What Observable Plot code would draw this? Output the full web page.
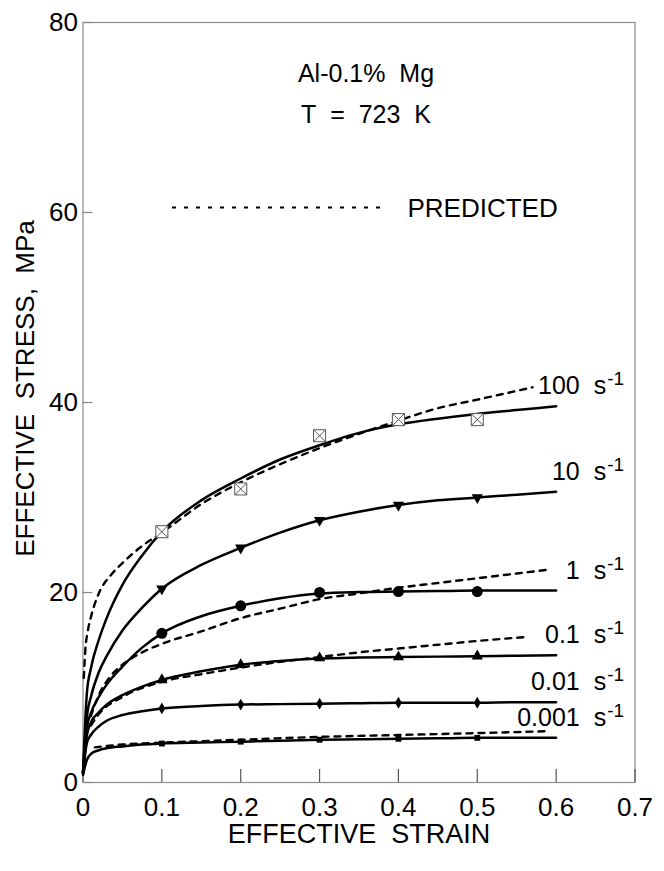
<!DOCTYPE html>
<html><head><meta charset="utf-8">
<script src="https://cdn.jsdelivr.net/npm/d3@7"></script>
<script src="https://cdn.jsdelivr.net/npm/@observablehq/plot@0.6"></script>
<style>html,body{margin:0;padding:0;background:#fff}</style>
</head><body><div id="chart"></div>
<script>
// ---------- data ----------
const rates = ["100", "10", "1", "0.1", "0.01", "0.001"];
const xTicks = [0, 0.1, 0.2, 0.3, 0.4, 0.5, 0.6, 0.7];
const yTicks = [0, 20, 40, 60, 80];
const xTitle = "EFFECTIVE\u00a0 STRAIN";
const yTitle = "EFFECTIVE\u00a0 STRESS,\u00a0 MPa";
const alloyText = "Al-0.1%\u00a0 Mg";
const tempText = "T\u00a0 =\u00a0 723\u00a0 K";
const legendText = "PREDICTED";

// measured points (markers)
const markerStrain = [0.1, 0.2, 0.3, 0.4, 0.5];
const measured100 = [26.4, 30.9, 36.5, 38.2, 38.2];
const measured10 = [20.4, 24.7, 27.6, 29.2, 30.0];
const measured1 = [15.7, 18.6, 20.0, 20.1, 20.1];
const measured01 = [10.8, 12.4, 13.1, 13.2, 13.3];
const measured001 = [7.8, 8.2, 8.3, 8.4, 8.4];
const measured0001 = [4.1, 4.3, 4.5, 4.6, 4.7];

// solid (experimental fit) curves
const fitStrain = [0, 0.005, 0.01, 0.02, 0.03, 0.05, 0.075, 0.1, 0.15, 0.2, 0.25, 0.3, 0.35, 0.4, 0.45, 0.5, 0.55, 0.6];
const fit100 = [1.0, 9.5, 12.0, 15.0, 17.3, 20.8, 23.9, 26.4, 29.7, 32.0, 34.0, 35.5, 36.8, 37.7, 38.3, 38.8, 39.2, 39.6];
const fit10 = [1.0, 7.0, 9.0, 11.6, 13.3, 16.0, 18.4, 20.4, 22.9, 24.7, 26.3, 27.6, 28.5, 29.2, 29.7, 30.0, 30.3, 30.6];
const fit1 = [1.0, 5.8, 7.3, 9.0, 10.3, 12.2, 14.2, 15.7, 17.5, 18.6, 19.4, 19.9, 20.05, 20.1, 20.15, 20.2, 20.2, 20.2];
const fit01 = [1.0, 5.0, 6.3, 7.4, 8.2, 9.2, 10.1, 10.8, 11.7, 12.4, 12.8, 13.05, 13.15, 13.2, 13.25, 13.3, 13.35, 13.4];
const fit001 = [1.0, 4.2, 5.0, 5.9, 6.5, 7.1, 7.5, 7.8, 8.05, 8.2, 8.25, 8.3, 8.35, 8.4, 8.4, 8.4, 8.45, 8.45];
const fit0001 = [0.8, 2.4, 3.0, 3.4, 3.6, 3.8, 4.0, 4.1, 4.2, 4.3, 4.4, 4.5, 4.55, 4.6, 4.65, 4.7, 4.7, 4.7];

// dashed (predicted) curves
const pred100Strain = [0.001, 0.003, 0.006, 0.01, 0.02, 0.035, 0.05, 0.075, 0.1, 0.15, 0.2, 0.25, 0.3, 0.35, 0.4, 0.45, 0.5, 0.57];
const pred100 = [11.0, 14.0, 15.9, 17.4, 19.9, 21.8, 23.1, 24.9, 26.3, 29.3, 31.6, 33.5, 35.2, 36.7, 38.1, 39.4, 40.3, 41.6];
const pred1Strain = [0.01, 0.02, 0.035, 0.05, 0.075, 0.1, 0.15, 0.2, 0.25, 0.3, 0.35, 0.4, 0.45, 0.5, 0.55, 0.59];
const pred1 = [7.0, 9.2, 11.2, 12.4, 13.7, 14.6, 15.9, 17.3, 18.3, 19.3, 19.9, 20.5, 21.0, 21.5, 22.0, 22.4];
const pred01Strain = [0.01, 0.02, 0.05, 0.1, 0.15, 0.2, 0.25, 0.3, 0.35, 0.4, 0.45, 0.5, 0.56];
const pred01 = [6.0, 7.2, 9.0, 10.6, 11.4, 12.1, 12.7, 13.2, 13.7, 14.1, 14.5, 14.9, 15.3];
const pred0001Strain = [0.015, 0.05, 0.1, 0.15, 0.2, 0.3, 0.4, 0.5, 0.59];
const pred0001 = [3.7, 4.0, 4.2, 4.35, 4.5, 4.8, 5.0, 5.2, 5.4];

// ---------- tables built from the arrays ----------
const fits = {"100": fit100, "10": fit10, "1": fit1, "0.1": fit01, "0.01": fit001, "0.001": fit0001};
const measured = {"100": measured100, "10": measured10, "1": measured1, "0.1": measured01, "0.01": measured001, "0.001": measured0001};
const predicted = [["100", pred100Strain, pred100], ["1", pred1Strain, pred1], ["0.1", pred01Strain, pred01], ["0.001", pred0001Strain, pred0001]];

const fitRows = rates.flatMap(r => fitStrain.map((e, i) => ({rate: r, strain: e, stress: fits[r][i]})));
const predRows = predicted.flatMap(([r, xs, ys]) => xs.map((e, i) => ({rate: r, strain: e, stress: ys[i]})));
const measRows = rates.flatMap(r => markerStrain.map((e, i) => ({rate: r, strain: e, stress: measured[r][i]})));
const endRows = rates.map(r => ({rate: r, strain: fitStrain[fitStrain.length - 1], stress: fits[r][fits[r].length - 1]}));
const rows = r => measRows.filter(d => d.rate === r);

// ---------- layout ----------
const W = 664, H = 871, ML = 82.5, MR = 29.5, MT = 22, MB = 89;
const FW = W - ML - MR, FH = H - MT - MB;
const FONT = "'Liberation Sans', Arial, Helvetica, sans-serif";
const INK = "#000";

const chart = Plot.plot({
  width: W,
  height: H,
  marginLeft: ML,
  marginRight: MR,
  marginTop: MT,
  marginBottom: MB,
  style: {fontFamily: FONT, color: INK, background: "#fff", overflow: "visible"},
  x: {domain: [0, 0.7]},
  y: {domain: [0, 80]},
  marks: [
    Plot.frame({stroke: "#8c8c8c", strokeWidth: 1.2}),
    Plot.ruleX(xTicks, {x: d => d, insetTop: FH - 13, stroke: "#555", strokeWidth: 1.2}),
    Plot.ruleY(yTicks, {y: d => d, insetRight: FW - 10, stroke: "#888", strokeWidth: 1.2}),
    Plot.axisX({ticks: xTicks, tickSize: 0, tickPadding: 15, label: null, fontSize: 26, tickFormat: d => String(d), fill: INK}),
    Plot.axisY({ticks: yTicks, tickSize: 0, tickPadding: 5, label: null, fontSize: 26, tickFormat: d => String(d), fill: INK}),
    Plot.text([xTitle], {frameAnchor: "bottom", textAnchor: "middle", lineAnchor: "middle", dy: 52, fontSize: 27, fill: INK}),
    Plot.text([yTitle], {frameAnchor: "left", textAnchor: "middle", lineAnchor: "middle", rotate: -90, dx: -57, dy: -14, fontSize: 26, fill: INK}),
    Plot.text([alloyText], {frameAnchor: "top", textAnchor: "middle", lineAnchor: "middle", dx: 7, dy: 51, fontSize: 25, fill: INK}),
    Plot.text([tempText], {frameAnchor: "top", textAnchor: "middle", lineAnchor: "middle", dx: 7, dy: 92, fontSize: 25, fill: INK}),
    Plot.ruleY([yTicks[3]], {dy: -5, insetLeft: 89.5, insetRight: FW - 297.5, stroke: INK, strokeWidth: 2, strokeDasharray: "4,8"}),
    Plot.text([legendText], {frameAnchor: "top-left", textAnchor: "start", lineAnchor: "middle", dx: 324.5, dy: 186, fontSize: 26, fill: INK}),
    // curves
    Plot.line(fitRows, {x: "strain", y: "stress", z: "rate", curve: "monotone-x", stroke: INK, strokeWidth: 2.5}),
    Plot.line(predRows, {x: "strain", y: "stress", z: "rate", curve: "monotone-x", stroke: INK, strokeWidth: 2.4, strokeDasharray: "6,6"}),
    // markers
    Plot.dot(rows("100"), {x: "strain", y: "stress", symbol: "square", r: 6.8, fill: "#fff", stroke: "#555", strokeWidth: 1}),
    Plot.dot(rows("100"), {x: "strain", y: "stress", symbol: "times", r: 5.4, stroke: "#555", strokeWidth: 1}),
    Plot.dot(rows("10"), {x: "strain", y: "stress", symbol: "triangle", rotate: 180, r: 4.2, fill: INK, stroke: "none"}),
    Plot.dot(rows("1"), {x: "strain", y: "stress", symbol: "circle", r: 5.5, fill: INK, stroke: "none"}),
    Plot.dot(rows("0.1"), {x: "strain", y: "stress", symbol: "triangle", r: 4.2, fill: INK, stroke: "none"}),
    Plot.dot(rows("0.01"), {x: "strain", y: "stress", symbol: "diamond", r: 3.6, fill: INK, stroke: "none"}),
    Plot.dot(rows("0.001"), {x: "strain", y: "stress", symbol: "square", r: 3.3, fill: INK, stroke: "none"}),
    // rate labels
    Plot.text(endRows, {x: "strain", y: "stress", text: d => d.rate + "\u00a0 s", textAnchor: "end", lineAnchor: "middle", dx: 50, dy: -20, fontSize: 25, fill: INK}),
    Plot.text(endRows, {x: "strain", y: "stress", text: () => "-1", textAnchor: "start", lineAnchor: "middle", dx: 51, dy: -27, fontSize: 19, fill: INK})
  ]
});
document.getElementById("chart").appendChild(chart);
</script>
</body></html>
